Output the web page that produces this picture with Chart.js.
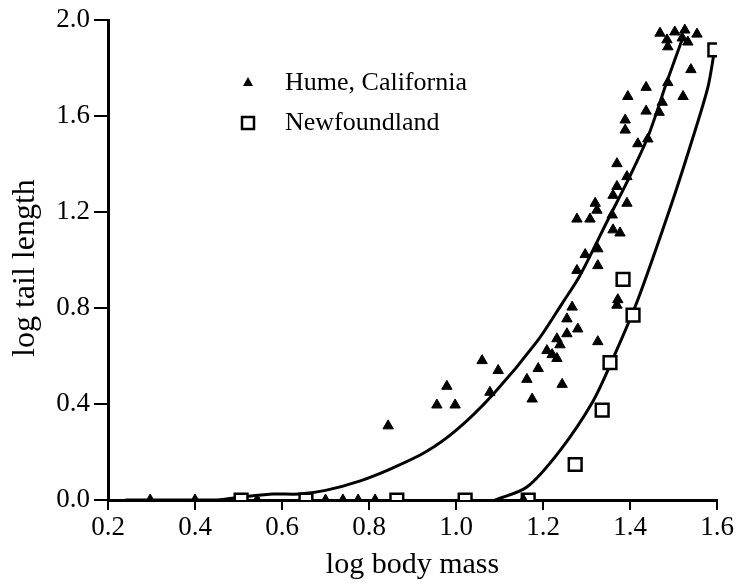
<!DOCTYPE html>
<html>
<head>
<meta charset="utf-8">
<script src="https://cdn.jsdelivr.net/npm/chart.js@4.4.0/dist/chart.umd.min.js"></script>
<style>
  html, body { margin: 0; padding: 0; background: #fff; }
  #wrap { width: 736px; height: 587px; }
</style>
</head>
<body>
<div id="wrap"><canvas id="chart" width="736" height="587"></canvas></div>
<script>
// Hume, California (filled triangles)
const humeX = [0.297, 0.40, 0.543, 0.70, 0.74, 0.775, 0.814, 1.155,
  0.844, 0.956, 0.998, 0.979, 1.060, 1.097, 1.078, 1.175, 1.163, 1.189, 1.209, 1.221,
  1.232, 1.244, 1.232, 1.239, 1.255, 1.280, 1.255, 1.267, 1.326, 1.370, 1.372,
  1.278, 1.297, 1.326, 1.326, 1.377, 1.361, 1.278, 1.308, 1.324, 1.320, 1.359,
  1.393, 1.370, 1.393, 1.370, 1.361, 1.389, 1.389, 1.441, 1.418, 1.437, 1.487,
  1.395, 1.522, 1.437, 1.474, 1.467, 1.540, 1.469, 1.485, 1.503, 1.526, 1.520,
  1.533, 1.554, 1.487];
const humeY = [0, 0, 0, 0, 0, 0, 0, 0,
  0.309, 0.396, 0.396, 0.474, 0.581, 0.540, 0.449, 0.421, 0.503, 0.548, 0.623, 0.606,
  0.590, 0.482, 0.672, 0.647, 0.693, 0.713, 0.755, 0.804, 0.660, 0.812, 0.835,
  0.957, 1.023, 0.977, 1.047, 1.113, 1.126, 1.171, 1.171, 1.208, 1.237, 1.188,
  1.237, 1.307, 1.348, 1.402, 1.270, 1.584, 1.542, 1.505, 1.485, 1.720, 1.740,
  1.682, 1.682, 1.621, 1.658, 1.616, 1.794, 1.946, 1.918, 1.951, 1.959, 1.926,
  1.909, 1.942, 1.889];

// Newfoundland (open squares)
const newfX = [0.506, 0.655, 0.864, 1.021, 1.166, 1.274, 1.336, 1.354, 1.407, 1.384, 1.595];
const newfY = [0, 0, 0, 0, 0, 0.148, 0.375, 0.573, 0.771, 0.920, 1.876];

// fitted curves
const humeFitX = [0.24, 0.45, 0.52, 0.58, 0.64, 0.70, 0.78, 0.85, 0.93, 1.00, 1.085, 1.186, 1.246, 1.285, 1.349, 1.395, 1.441, 1.485, 1.522];
const humeFitY = [0.0, 0.0, 0.015, 0.025, 0.025, 0.04, 0.08, 0.13, 0.20, 0.29, 0.44, 0.66, 0.825, 0.936, 1.167, 1.332, 1.513, 1.744, 1.93];
const newfFitX = [1.09, 1.163, 1.239, 1.315, 1.361, 1.416, 1.496, 1.545, 1.579, 1.593];
const newfFitY = [0.0, 0.054, 0.206, 0.412, 0.59, 0.825, 1.237, 1.513, 1.72, 1.86];

const xTicks = [0.2, 0.4, 0.6, 0.8, 1.0, 1.2, 1.4, 1.6];
const yTicks = [0.0, 0.4, 0.8, 1.2, 1.6, 2.0];

const serif = "'Liberation Serif', 'DejaVu Serif', serif";

const pts = (xs, ys) => xs.map((x, i) => ({ x: x, y: ys[i] }));

// legend drawn inside the plot, like the original
const insideLegend = {
  id: 'insideLegend',
  afterDraw(chart) {
    const ctx = chart.ctx;
    ctx.save();
    ctx.fillStyle = '#000';
    ctx.strokeStyle = '#000';
    // triangle
    ctx.beginPath();
    ctx.moveTo(248, 77);
    ctx.lineTo(253, 86);
    ctx.lineTo(243, 86);
    ctx.closePath();
    ctx.fill();
    // square
    ctx.lineWidth = 2.5;
    ctx.fillStyle = '#fff';
    ctx.fillRect(242, 117, 12, 12);
    ctx.strokeRect(242, 117, 12, 12);
    ctx.fillStyle = '#000';
    ctx.font = '26px ' + serif;
    ctx.textBaseline = 'middle';
    ctx.fillText('Hume, California', 285, 83);
    ctx.fillText('Newfoundland', 285, 123);
    ctx.restore();
  }
};

new Chart(document.getElementById('chart'), {
  type: 'scatter',
  data: {
    datasets: [
      {
        label: 'Hume fit',
        data: pts(humeFitX, humeFitY),
        showLine: true,
        borderColor: '#000',
        borderWidth: 3,
        pointRadius: 0,
        tension: 0.3,
        order: 3
      },
      {
        label: 'Newfoundland fit',
        data: pts(newfFitX, newfFitY),
        showLine: true,
        borderColor: '#000',
        borderWidth: 3,
        pointRadius: 0,
        tension: 0.3,
        order: 3
      },
      {
        label: 'Hume, California',
        data: pts(humeX, humeY),
        pointStyle: 'triangle',
        pointRadius: 6,
        backgroundColor: '#000',
        borderColor: '#000',
        borderWidth: 1,
        order: 1
      },
      {
        label: 'Newfoundland',
        data: pts(newfX, newfY),
        pointStyle: 'rect',
        pointRadius: 9,
        backgroundColor: '#fff',
        borderColor: '#000',
        borderWidth: 2.5,
        order: 2
      }
    ]
  },
  options: {
    responsive: false,
    animation: false,
    layout: { padding: { left: 0, right: 19, top: 15, bottom: 0 } },
    plugins: {
      legend: { display: false },
      tooltip: { enabled: false }
    },
    scales: {
      x: {
        type: 'linear',
        min: 0.2,
        max: 1.6,
        afterBuildTicks: axis => { axis.ticks = xTicks.map(v => ({ value: v })); },
        afterFit: axis => { axis.height = 87; },
        ticks: {
          color: '#000',
          font: { family: serif, size: 27 },
          padding: 2,
          maxRotation: 0,
          callback: v => v.toFixed(1)
        },
        grid: { drawOnChartArea: false, drawTicks: true, tickLength: 10, color: '#000', lineWidth: 2 },
        border: { color: '#000', width: 3 },
        title: {
          display: true,
          text: 'log body mass',
          color: '#000',
          font: { family: serif, size: 30 },
          padding: { top: 0, bottom: 4 }
        }
      },
      y: {
        type: 'linear',
        min: 0,
        max: 2.0,
        afterBuildTicks: axis => { axis.ticks = yTicks.map(v => ({ value: v })); },
        afterFit: axis => { axis.width = 108; },
        ticks: {
          color: '#000',
          font: { family: serif, size: 27 },
          padding: 4,
          callback: v => v.toFixed(1)
        },
        grid: { drawOnChartArea: false, drawTicks: true, tickLength: 14, color: '#000', lineWidth: 2 },
        border: { color: '#000', width: 3 },
        title: {
          display: true,
          text: 'log tail length  ',
          color: '#000',
          font: { family: serif, size: 32 },
          padding: { top: 6, bottom: 0 }
        }
      }
    }
  },
  plugins: [insideLegend]
});
</script>
</body>
</html>
